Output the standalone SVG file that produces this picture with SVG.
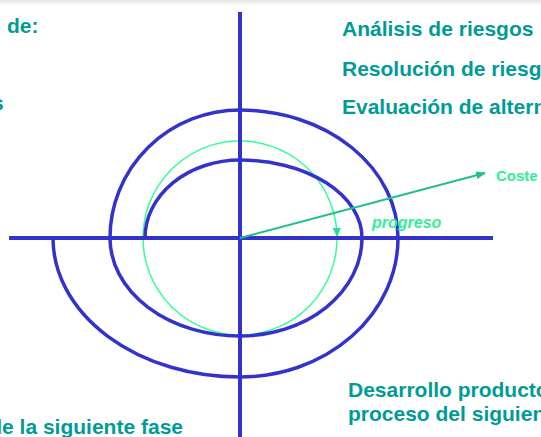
<svg xmlns="http://www.w3.org/2000/svg" width="541" height="437" viewBox="0 0 541 437">
<defs>
<linearGradient id="topshade" x1="0" y1="0" x2="0" y2="1">
<stop offset="0" stop-color="#e4e4e4"/>
<stop offset="1" stop-color="#ffffff"/>
</linearGradient>
<marker id="arrCoste" markerWidth="10" markerHeight="8" refX="9" refY="4" orient="auto" markerUnits="userSpaceOnUse">
<path d="M0,0 L10,4 L0,8 z" fill="#1dbf8c"/>
</marker>
<marker id="arrProg" markerWidth="9" markerHeight="8" refX="8" refY="4" orient="auto" markerUnits="userSpaceOnUse">
<path d="M0,0 L9,4 L0,8 z" fill="#22e08e"/>
</marker>
<style>
.lbl{font-family:"Liberation Sans",Arial,sans-serif;font-weight:bold;font-size:21px;fill:#009b96}
.grn{font-family:"Liberation Sans",Arial,sans-serif;font-weight:bold;fill:#33ee99}
.blue{fill:none;stroke:#3333cc;stroke-width:3.5}
.axis{fill:none;stroke:#3333cc;stroke-width:4}
</style>
</defs>
<rect x="0" y="0" width="541" height="437" fill="#ffffff"/>
<rect x="0" y="0" width="541" height="6" fill="url(#topshade)"/>
<g id="progress-circle">
<path d="M337,240 A97,97 0 1 1 337,236" fill="none" stroke="#33ff99" stroke-width="1.5" marker-end="url(#arrProg)"/>
</g>
<g id="spiral">
<path class="blue" d="M145,238 A95,78 0 0 1 240,160 A122,78 0 0 1 362,238 A122,98 0 0 1 240,336 A130,98 0 0 1 110,238 A130,128 0 0 1 240,110 A158,128 0 0 1 398,238 A158,139 0 0 1 240,377 A187,139 0 0 1 53,238"/>
</g>
<g id="axes">
<line class="axis" x1="240" y1="12" x2="240" y2="437"/>
<line class="axis" x1="9" y1="238" x2="493" y2="238"/>
</g>
<g id="connectors">
<line x1="240" y1="238" x2="485" y2="173" stroke="#1dbf8c" stroke-width="2" marker-end="url(#arrCoste)"/>
</g>
<g id="label-coste"><text class="grn" x="496" y="181" font-size="15">Coste</text></g>
<g id="label-progreso"><text class="grn" x="372" y="228" font-size="16" font-style="italic">progreso</text></g>
<g id="q-top-left">
<text class="lbl" x="7" y="33">de:</text>
<text class="lbl" x="-8" y="110">s</text>
</g>
<g id="q-top-right">
<text class="lbl" x="342" y="36">Análisis de riesgos</text>
<text class="lbl" x="342" y="76">Resolución de riesg</text>
<text class="lbl" x="342" y="114">Evaluación de altern</text>
</g>
<g id="q-bottom-right">
<text class="lbl" x="348" y="397">Desarrollo producto</text>
<text class="lbl" x="348" y="421">proceso del siguien</text>
</g>
<g id="q-bottom-left">
<text class="lbl" x="183" y="434" text-anchor="end">de la siguiente fase</text>
</g>
</svg>
